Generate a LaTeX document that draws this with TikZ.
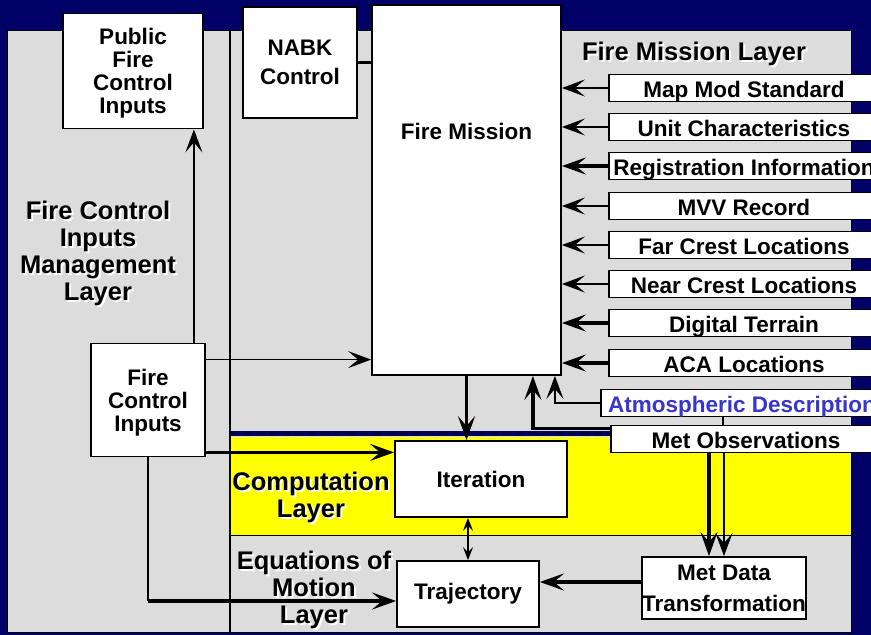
\documentclass[tikz,border=0pt]{standalone}
\usepackage{fontspec}
\setmainfont{Liberation Sans}
\usepackage{xcolor}
\usepackage{tikz}
\usetikzlibrary{arrows.meta,positioning}
\definecolor{fcnavy}{HTML}{000066}
\definecolor{fcgray}{HTML}{DCDCDC}
\definecolor{fcyellow}{HTML}{FFFF00}
\definecolor{fcblue}{HTML}{3636CC}
\newcommand{\boxfont}{\fontsize{22.5}{23}\selectfont\bfseries}
\newcommand{\layerfont}{\fontsize{25.5}{27}\selectfont\bfseries}
\tikzset{
    box/.style={
        rectangle, draw=black, fill=white,
        line width=1.8pt, align=center,
        inner sep=0pt, font=\boxfont
    },
    inbox/.style={box, minimum width=270pt, minimum height=27pt,
        text height=19pt, text depth=1pt},
    layer/.style={font=\layerfont, align=center},
    layershadow/.style={layer, text=white},
    conn/.style={line width=1.6pt},
    thickline/.style={line width=3.6pt},
    arrow/.style={conn, -{Stealth[length=23pt,width=17pt,inset=10pt]}},
    thickarrow/.style={thickline, -{Stealth[length=24pt,width=17pt,inset=10pt]}},
    twoarrow/.style={conn, {Stealth[length=13pt,width=10pt,inset=5pt]}-{Stealth[length=13pt,width=10pt,inset=5pt]}},
}
% layer label with white drop shadow
\newcommand{\layerlabel}[3]{%
    \node[layershadow] at ([shift={(2,2)}]#2) {#3};
    \node[layer] (#1) at (#2) {#3};}

\begin{document}
\begin{tikzpicture}[x=1pt, y=-1pt]
    \useasboundingbox (0,0) rectangle (871,635);
    \clip (0,0) rectangle (871,635);

    % Layers
    \fill[fcnavy] (0,0) rectangle (871,635);
    \draw[fill=fcgray, line width=1pt] (7,30) rectangle (851,632);
    \fill[fcyellow] (230,437) rectangle (851,535);
    \draw[line width=1pt] (230,535) -- (851,535);
    \draw[fcnavy, line width=5pt] (230,433.5) -- (851,433.5);
    \draw[line width=1.2pt, dash pattern=on 9pt off 4pt] (230,433.5) -- (851,433.5);
    \draw[line width=1.2pt] (230,30) -- (230,632);

    \layerlabel{fml}{694,54}{Fire Mission Layer}
    \layerlabel{fcil}{98,253}{Fire Control\\Inputs\\Management\\Layer}
    \layerlabel{compl}{311,497}{Computation\\Layer}
    \layerlabel{eoml}{314,590}{Equations of\\Motion\\Layer}

    % Nodes
    \node[box, minimum width=140pt, minimum height=115pt, text depth=0pt] (pub) at (133,71)
        {Public\\Fire\\Control\\Inputs};
    \node[box, minimum width=114pt, minimum height=111pt, font=\fontsize{22.5}{29}\selectfont\bfseries] (nabk) at (300,62.5)
        {NABK\\Control};
    \node[box, minimum width=189pt, minimum height=370pt,
          label={[font=\boxfont, yshift=59pt]center:Fire Mission}] (fm) at (466.5,190) {};
    \node[box, minimum width=114pt, minimum height=113pt, text depth=0pt] (fci) at (148,400)
        {Fire\\Control\\Inputs};
    \node[box, minimum width=172pt, minimum height=76pt] (iter) at (481,479) {Iteration};
    \node[box, minimum width=142pt, minimum height=66pt] (traj) at (468,594) {Trajectory};
    \node[box, minimum width=162pt, minimum height=62pt, font=\fontsize{22.5}{31}\selectfont\bfseries] (mdt) at (724,588)
        {Met Data\\Transformation};

    % Input column
    \node[inbox] (map) at (744,88) {Map Mod Standard};
    \node[inbox] (unit) at (744,127) {Unit Characteristics};
    \node[inbox] (reg) at (744,166) {Registration Information};
    \node[inbox] (mvv) at (744,206) {MVV Record};
    \node[inbox] (far) at (744,245) {Far Crest Locations};
    \node[inbox] (near) at (744,284) {Near Crest Locations};
    \node[inbox] (dig) at (744,323) {Digital Terrain};
    \node[inbox] (aca) at (744,363) {ACA Locations};
    \node[inbox, minimum width=282pt, text=fcblue] (atm) at (742,403) {Atmospheric Description};
    \node[inbox] (met) at (746,439) {Met Observations};

    % Arrows (inputs to fire mission)
    \draw[arrow] (map) -- (map -| fm.east);
    \draw[arrow] (unit) -- (unit -| fm.east);
    \draw[thickarrow] (reg) -- (reg -| fm.east);
    \draw[arrow] (mvv) -- (mvv -| fm.east);
    \draw[arrow] (far) -- (far -| fm.east);
    \draw[arrow] (near) -- (near -| fm.east);
    \draw[thickarrow] (dig) -- (dig -| fm.east);
    \draw[thickarrow] (aca) -- (aca -| fm.east);
    \draw[thickarrow] ([yshift=-4pt]met.north west) -| ([xshift=-29pt]fm.south east);
    \draw[arrow] (atm) -| ([xshift=-7pt]fm.south east);
    \draw[conn] ([xshift=-19pt]atm.south) -- ([xshift=-19pt]atm.south |- met.north);
    \draw[thickline] (nabk) -- (nabk -| fm.west);

    % Arrows (computation)
    \draw[thickarrow] (fm.south) -- (fm.south |- iter.north);
    \draw[twoarrow] (traj.north) -- (traj.north |- iter.south);
    \draw[thickarrow] ([xshift=-15pt]mdt.north |- met.south) -- ([xshift=-15pt]mdt.north);
    \draw[arrow] (mdt.north |- met.south) -- (mdt.north);
    \draw[thickarrow] ([yshift=6pt]mdt.west) -- ([yshift=6pt]mdt.west -| traj.east);

    % Arrows (fire control inputs)
    \draw[arrow] ([xshift=-10pt]pub.south east |- fci.north) -- ([xshift=-10pt]pub.south east);
    \draw[arrow] ([yshift=-17pt]fci.north east) -- ([yshift=-17pt]fci.north east -| fm.west);
    \draw[thickarrow] ([yshift=5pt]fci.south east) -- ([yshift=5pt]fci.south east -| iter.west);
    \coordinate (bend) at ([yshift=-7pt]traj.west -| fci.south);
    \draw[conn] (fci.south) -- (bend);
    \draw[thickarrow] (bend) -- ([yshift=-7pt]traj.west);

\end{tikzpicture}
\end{document}
